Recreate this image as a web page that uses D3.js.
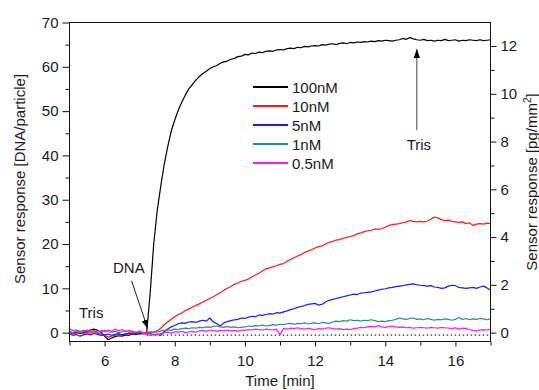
<!DOCTYPE html>
<html>
<head>
<meta charset="utf-8">
<script src="https://cdn.jsdelivr.net/npm/d3@7"></script>
<style>
  html, body { margin: 0; padding: 0; background: #fff; }
  svg { display: block; font-family: "Liberation Sans", Arial, Helvetica, sans-serif; }
</style>
</head>
<body>
<svg id="chart" width="539" height="390"></svg>
<script>
// ---------- DATA ----------
const time = [
  5.0,5.1,5.2,5.3,5.4,5.5,5.6,5.7,5.8,5.9,
  6.0,6.1,6.2,6.3,6.4,6.5,6.6,6.7,6.8,6.9,
  7.0,7.1,7.2,7.3,7.4,7.5,7.6,7.7,7.8,7.9,
  8.0,8.1,8.2,8.3,8.4,8.5,8.6,8.7,8.8,8.9,
  9.0,9.1,9.2,9.3,9.4,9.5,9.6,9.7,9.8,9.9,
  10.0,10.1,10.2,10.3,10.4,10.5,10.6,10.7,10.8,10.9,
  11.0,11.1,11.2,11.3,11.4,11.5,11.6,11.7,11.8,11.9,
  12.0,12.1,12.2,12.3,12.4,12.5,12.6,12.7,12.8,12.9,
  13.0,13.1,13.2,13.3,13.4,13.5,13.6,13.7,13.8,13.9,
  14.0,14.1,14.2,14.3,14.4,14.5,14.6,14.7,14.8,14.9,
  15.0,15.1,15.2,15.3,15.4,15.5,15.6,15.7,15.8,15.9,
  16.0,16.1,16.2,16.3,16.4,16.5,16.6,16.7,16.8,16.9,
  17.0
];

const nM100 = [
  0.2,-0.1,0.1,-0.2,0.0,0.3,0.6,0.8,0.5,0.1,
  -0.8,-1.6,-1.2,-0.9,-0.7,-0.8,-0.5,-0.6,-0.3,-0.4,
  -0.2,-0.3,0.1,9.0,20.0,27.5,33.0,38.0,42.0,45.5,
  48.0,50.2,52.0,53.6,55.0,56.0,57.0,57.8,58.5,59.0,
  59.6,60.0,60.3,60.8,61.1,61.3,61.7,61.9,62.3,62.4,
  62.8,62.7,63.1,63.0,63.3,63.2,63.5,63.6,63.5,63.8,
  63.9,63.8,64.1,64.2,64.1,64.4,64.3,64.6,64.5,64.7,
  64.8,64.7,65.0,64.9,65.1,65.2,65.0,65.3,65.4,65.2,
  65.5,65.4,65.6,65.5,65.7,65.6,65.8,65.7,65.9,65.8,
  66.0,65.9,65.8,66.0,66.1,66.4,66.2,66.6,66.3,66.1,
  66.0,66.2,65.9,66.0,65.8,66.0,65.9,66.2,65.9,66.0,
  66.1,65.8,66.0,65.9,66.1,66.0,65.9,66.1,65.9,66.0,
  66.1
];

const nM10 = [
  0.0,-0.3,-0.1,0.1,-0.2,0.0,-0.1,0.2,-0.1,-0.3,
  -0.6,-1.0,-0.8,-0.6,-0.4,-0.5,-0.2,-0.3,0.0,-0.2,
  0.1,-0.1,0.0,0.2,0.1,0.4,1.0,1.8,2.4,3.0,
  3.6,4.1,4.4,5.0,5.3,5.8,6.1,6.5,6.9,7.3,
  7.7,8.1,8.6,9.0,9.6,10.0,10.4,10.9,11.2,11.6,
  11.8,12.1,12.6,13.0,13.4,13.9,14.4,14.6,14.9,15.1,
  15.4,15.6,16.1,16.5,16.9,17.3,17.6,18.1,18.4,18.7,
  19.1,19.4,19.6,20.0,20.4,20.6,20.9,21.0,21.3,21.5,
  21.7,21.9,22.3,22.5,22.8,23.0,23.1,23.4,23.3,23.5,
  23.8,24.2,24.4,24.5,24.6,24.8,25.0,25.3,25.1,25.0,
  25.1,25.0,25.2,25.6,26.1,25.9,25.5,25.3,25.4,25.1,
  25.0,24.9,25.0,24.6,24.8,24.2,24.5,24.6,24.5,24.7,
  24.6
];

const nM5 = [
  -0.3,-0.6,-0.4,-0.8,-0.5,-0.3,-0.5,-0.2,-0.4,-0.6,
  -0.5,-0.3,-0.6,-0.4,-0.2,-0.5,-0.3,-0.1,-0.4,-0.2,
  -0.3,-0.1,-0.4,-0.2,-0.5,-0.3,-0.6,0.2,0.8,1.3,
  1.6,2.0,2.2,2.1,2.4,2.5,2.3,2.6,2.8,2.6,
  3.3,2.4,2.0,1.5,2.2,2.5,2.7,2.9,3.0,3.3,
  3.2,3.5,3.7,3.6,4.0,3.9,4.1,4.3,4.2,4.5,
  4.4,4.7,4.9,5.2,5.4,5.7,5.9,6.1,6.4,6.5,
  6.6,6.2,6.4,6.9,7.3,7.5,7.7,7.9,8.1,8.3,
  8.5,8.7,8.6,8.9,9.0,9.1,9.2,9.4,9.6,9.8,
  9.9,10.1,10.2,10.4,10.5,10.6,10.8,10.9,11.0,10.8,
  10.7,10.6,10.5,10.6,10.3,10.2,10.0,10.1,10.5,10.7,
  10.6,10.2,10.1,10.0,10.1,10.2,10.0,10.3,10.5,10.1,
  9.6
];

const nM1 = [
  0.8,0.5,0.6,0.3,0.5,0.4,0.2,0.4,0.1,0.3,
  0.5,0.2,0.1,0.3,0.0,0.2,0.4,0.1,0.3,0.0,
  0.2,-0.1,-0.3,0.0,0.2,0.1,0.4,0.5,0.6,0.5,
  0.8,0.7,0.9,1.0,0.9,1.1,1.0,1.2,1.1,1.3,
  1.2,1.4,1.5,1.3,1.2,1.4,1.2,1.3,1.1,1.2,
  1.3,1.5,1.4,1.6,1.5,1.7,1.5,1.6,1.8,1.7,
  1.9,1.8,2.0,2.1,1.9,2.1,2.0,2.2,2.0,2.1,
  2.2,2.0,2.3,2.2,2.1,2.4,2.6,2.5,2.7,2.6,
  2.9,2.7,2.8,2.6,2.8,2.7,2.9,2.7,2.5,2.6,
  2.5,2.7,2.8,3.0,3.3,3.1,3.0,3.2,3.3,3.0,
  3.1,2.9,3.2,3.0,2.8,3.0,2.9,3.1,3.0,2.8,
  3.0,3.4,3.0,3.2,2.9,3.1,3.0,3.2,3.1,2.9,
  3.1
];

const nM05 = [
  0.3,0.0,0.4,0.1,0.3,0.6,0.2,0.4,0.1,0.5,
  0.2,0.6,0.3,0.8,0.4,0.7,0.2,0.5,0.3,0.1,
  0.4,-0.1,-0.4,-0.6,-0.3,-0.5,-0.2,0.0,0.1,-0.1,
  0.2,0.1,0.3,0.0,0.2,0.3,0.1,0.4,0.5,0.3,
  0.6,0.5,0.3,0.5,0.4,0.6,0.4,0.5,0.3,0.6,
  0.5,0.7,0.6,0.8,0.7,0.6,0.8,0.7,0.6,0.8,
  -0.5,0.9,0.8,1.0,0.9,1.1,0.9,0.8,1.0,0.8,
  0.7,0.9,0.8,1.0,1.1,0.9,0.8,0.9,0.7,0.8,
  0.7,0.9,1.0,1.2,1.1,1.3,1.4,1.3,1.6,1.3,
  1.2,1.4,1.5,1.3,1.2,1.3,1.1,1.2,1.0,1.1,
  1.2,1.1,1.0,1.2,1.1,1.0,1.2,1.1,1.0,0.9,
  1.1,0.8,1.0,0.9,0.7,0.5,0.4,0.6,0.7,0.6,
  0.8
];

const seriesNames  = ["100nM", "10nM", "5nM", "1nM", "0.5nM"];
const seriesValues = [nM100, nM10, nM5, nM1, nM05];
const seriesColors = ["#000000", "#ff1a1a", "#1a1aff", "#2e8b84", "#ff1aff"];

const xTicks      = [6, 8, 10, 12, 14, 16];
const xMinorTicks = [5, 7, 9, 11, 13, 15, 17];
const yTicks      = [0, 10, 20, 30, 40, 50, 60, 70];
const yMinorTicks = [5, 15, 25, 35, 45, 55, 65];
const yRightTicks = [0, 2, 4, 6, 8, 10, 12];
const yRightMinor = [1, 3, 5, 7, 9, 11];
const pgPerDNA = 0.1855;   // conversion DNA/particle -> pg/mm^2
const baselineValue = -0.55;

// ---------- LAYOUT ----------
const L = 69.5, R = 490.5, T = 22.5, B = 341.5;
const svg = d3.select("#chart");
const x = d3.scaleLinear().domain([5, 17]).range([L, R]);
const y = d3.scaleLinear().domain([-2, 70]).range([B, T]);
const yR = d3.scaleLinear().domain([-2 * pgPerDNA, 70 * pgPerDNA]).range([B, T]);

const textColor = "#1a1a1a";
const fontSize = 15;

svg.append("defs").append("clipPath").attr("id", "clip")
  .append("rect").attr("x", L).attr("y", T).attr("width", R - L).attr("height", B - T);

const defs = svg.select("defs");
defs.append("marker").attr("id", "arrow")
  .attr("viewBox", "0 0 10 10").attr("refX", 10).attr("refY", 5)
  .attr("markerWidth", 9).attr("markerHeight", 9).attr("markerUnits", "userSpaceOnUse")
  .attr("orient", "auto")
  .append("path").attr("d", "M0,1.5 L10,5 L0,8.5 Z").attr("fill", "#000");

// dotted baseline
svg.append("line")
  .attr("x1", x(7.2)).attr("x2", x(17))
  .attr("y1", y(baselineValue)).attr("y2", y(baselineValue))
  .attr("stroke", "#333").attr("stroke-width", 1.2)
  .attr("stroke-dasharray", "1.5,2.5");

// lines
const line = d3.line().x((d, i) => x(time[i])).y(d => y(d));
const g = svg.append("g").attr("clip-path", "url(#clip)");
seriesValues.forEach((vals, k) => {
  g.append("path").datum(vals)
    .attr("d", line)
    .attr("fill", "none")
    .attr("stroke", seriesColors[k])
    .attr("stroke-width", 1.2)
    .attr("stroke-linejoin", "round");
});

// frame
svg.append("rect").attr("x", L).attr("y", T).attr("width", R - L).attr("height", B - T)
  .attr("fill", "none").attr("stroke", "#111").attr("stroke-width", 1);

function styleAxis(sel) {
  sel.select(".domain").remove();
  sel.selectAll("line").attr("stroke", "#111");
  sel.selectAll("text").attr("fill", textColor).style("font-size", fontSize + "px")
    .style("font-family", '"Liberation Sans", Arial, sans-serif');
}

// left axis
svg.append("g").attr("transform", `translate(${L},0)`)
  .call(d3.axisLeft(y).tickValues(yTicks).tickSize(7).tickPadding(4).tickFormat(d3.format("d")))
  .call(styleAxis);
svg.append("g").attr("transform", `translate(${L},0)`)
  .call(d3.axisLeft(y).tickValues(yMinorTicks).tickSize(4).tickFormat(""))
  .call(styleAxis);

// right axis
svg.append("g").attr("transform", `translate(${R},0)`)
  .call(d3.axisRight(yR).tickValues(yRightTicks).tickSize(6).tickPadding(4).tickFormat(d3.format("d")))
  .call(styleAxis);
svg.append("g").attr("transform", `translate(${R},0)`)
  .call(d3.axisRight(yR).tickValues(yRightMinor).tickSize(4).tickFormat(""))
  .call(styleAxis);

// bottom axis
svg.append("g").attr("transform", `translate(0,${B})`)
  .call(d3.axisBottom(x).tickValues(xTicks).tickSize(5).tickPadding(9).tickFormat(d3.format("d")))
  .call(styleAxis);
svg.append("g").attr("transform", `translate(0,${B})`)
  .call(d3.axisBottom(x).tickValues(xMinorTicks).tickSize(4).tickFormat(""))
  .call(styleAxis);

// axis titles
svg.append("text").attr("x", (L + R) / 2).attr("y", 386)
  .attr("text-anchor", "middle").attr("fill", textColor).style("font-size", fontSize + "px")
  .text("Time [min]");

svg.append("text").attr("transform", "translate(25,179) rotate(-90)")
  .attr("text-anchor", "middle").attr("fill", textColor).style("font-size", fontSize + "px")
  .text("Sensor response [DNA/particle]");

const rt = svg.append("text").attr("transform", "translate(537,182) rotate(-90)")
  .attr("text-anchor", "middle").attr("fill", textColor).style("font-size", fontSize + "px");
rt.append("tspan").text("Sensor response [pg/mm");
rt.append("tspan").attr("dy", -6).style("font-size", "10px").text("2");
rt.append("tspan").attr("dy", 6).text("]");

// legend
const legendY = [87, 106, 125, 144, 163];
const leg = svg.append("g");
seriesNames.forEach((name, k) => {
  leg.append("line").attr("x1", 253).attr("x2", 288)
    .attr("y1", legendY[k]).attr("y2", legendY[k])
    .attr("stroke", seriesColors[k]).attr("stroke-width", 2);
  leg.append("text").attr("x", 292).attr("y", legendY[k] + 5.5)
    .attr("fill", textColor).style("font-size", fontSize + "px").text(name);
});

// annotations
svg.append("text").attr("x", x(5.27)).attr("y", y(3.3))
  .attr("fill", textColor).style("font-size", fontSize + "px").text("Tris");
svg.append("text").attr("x", x(6.24)).attr("y", y(13.45))
  .attr("fill", textColor).style("font-size", fontSize + "px").text("DNA");
svg.append("line")
  .attr("x1", x(6.77)).attr("y1", y(11.7)).attr("x2", x(7.23)).attr("y2", y(0.9))
  .attr("stroke", "#222").attr("stroke-width", 1).attr("marker-end", "url(#arrow)");
svg.append("text").attr("x", x(14.61)).attr("y", y(41.2))
  .attr("fill", textColor).style("font-size", fontSize + "px").text("Tris");
svg.append("line")
  .attr("x1", x(14.9)).attr("y1", y(45.7)).attr("x2", x(14.9)).attr("y2", y(64.0))
  .attr("stroke", "#444").attr("stroke-width", 1).attr("marker-end", "url(#arrow)");
</script>
</body>
</html>
